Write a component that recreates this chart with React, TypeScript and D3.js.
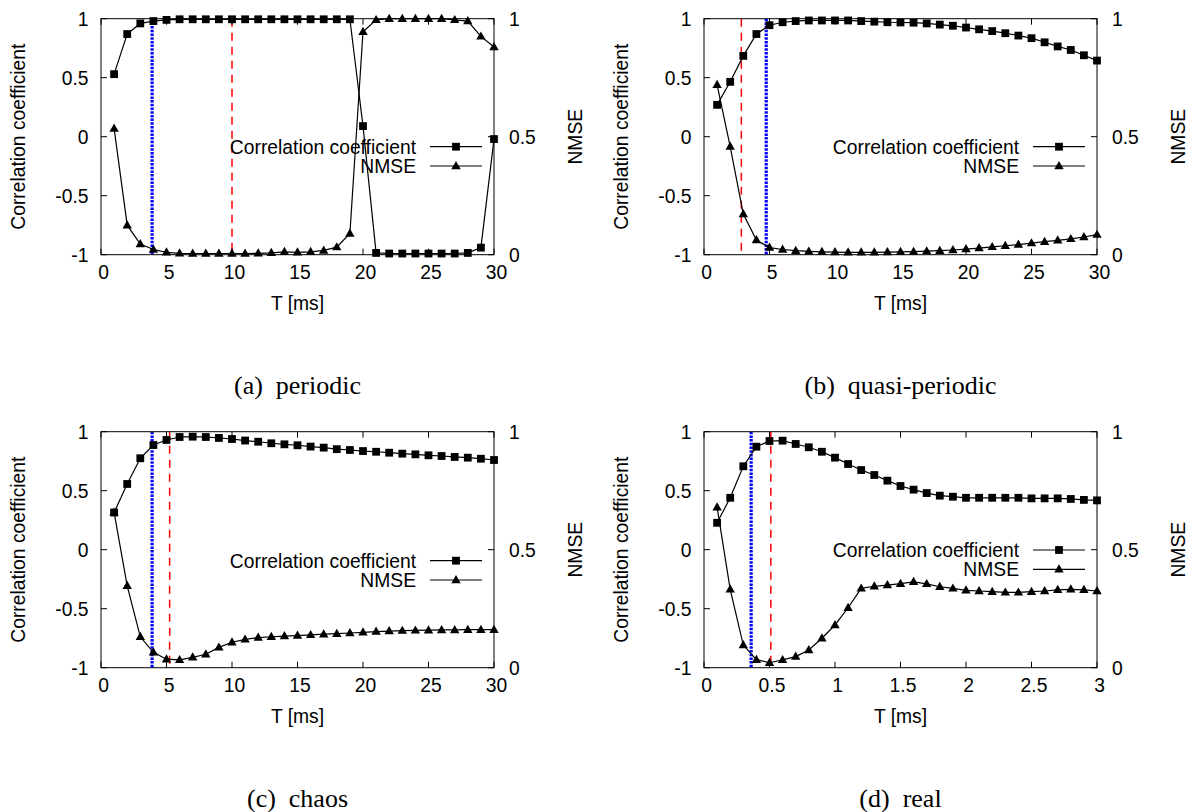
import React from "react";
import * as d3 from "d3";

// Sampling intervals T [ms]
const tMs = [1, 2, 3, 4, 5, 6, 7, 8, 9, 10, 11, 12, 13, 14, 15, 16, 17, 18, 19, 20, 21, 22, 23, 24, 25, 26, 27, 28, 29, 30];
const tReal = [0.1, 0.2, 0.3, 0.4, 0.5, 0.6, 0.7, 0.8, 0.9, 1.0, 1.1, 1.2, 1.3, 1.4, 1.5, 1.6, 1.7, 1.8, 1.9, 2.0, 2.1, 2.2, 2.3, 2.4, 2.5, 2.6, 2.7, 2.8, 2.9, 3.0];

// (a) periodic
const periodicCorr = [0.53, 0.87, 0.96, 0.98, 0.99, 0.995, 0.995, 0.995, 0.995, 0.995, 0.995, 0.995, 0.995, 0.995, 0.995, 0.995, 0.995, 0.995, 0.995, 0.09, -0.985, -0.99, -0.99, -0.99, -0.99, -0.99, -0.99, -0.985, -0.94, -0.02];
const periodicNmse = [0.535, 0.125, 0.045, 0.022, 0.01, 0.006, 0.005, 0.005, 0.005, 0.005, 0.005, 0.006, 0.008, 0.012, 0.01, 0.012, 0.018, 0.032, 0.09, 0.945, 0.995, 1.0, 1.0, 1.0, 1.0, 1.0, 0.995, 0.99, 0.925, 0.88];

// (b) quasi-periodic
const quasiCorr = [0.27, 0.465, 0.685, 0.87, 0.945, 0.97, 0.98, 0.985, 0.985, 0.985, 0.985, 0.98, 0.975, 0.97, 0.968, 0.966, 0.96, 0.95, 0.94, 0.925, 0.91, 0.895, 0.877, 0.857, 0.835, 0.8, 0.765, 0.735, 0.69, 0.645];
const quasiNmse = [0.72, 0.458, 0.172, 0.062, 0.03, 0.022, 0.017, 0.014, 0.012, 0.011, 0.01, 0.01, 0.01, 0.011, 0.012, 0.013, 0.015, 0.017, 0.02, 0.024, 0.028, 0.033, 0.038, 0.043, 0.049, 0.055, 0.061, 0.067, 0.075, 0.085];

// (c) chaos
const chaosCorr = [0.315, 0.557, 0.775, 0.887, 0.93, 0.955, 0.958, 0.955, 0.947, 0.938, 0.925, 0.915, 0.902, 0.893, 0.885, 0.874, 0.865, 0.852, 0.845, 0.836, 0.83, 0.822, 0.814, 0.808, 0.8, 0.794, 0.786, 0.78, 0.771, 0.76];
const chaosNmse = [0.658, 0.347, 0.131, 0.065, 0.036, 0.033, 0.044, 0.057, 0.086, 0.108, 0.12, 0.128, 0.131, 0.134, 0.136, 0.139, 0.142, 0.144, 0.147, 0.15, 0.153, 0.155, 0.157, 0.158, 0.159, 0.16, 0.16, 0.161, 0.161, 0.161];

// (d) real
const realCorr = [0.228, 0.44, 0.707, 0.873, 0.921, 0.924, 0.896, 0.868, 0.83, 0.78, 0.726, 0.675, 0.633, 0.585, 0.54, 0.509, 0.48, 0.458, 0.449, 0.44, 0.44, 0.44, 0.44, 0.44, 0.435, 0.435, 0.435, 0.43, 0.422, 0.418];
const realNmse = [0.68, 0.332, 0.096, 0.034, 0.021, 0.033, 0.047, 0.075, 0.125, 0.181, 0.254, 0.336, 0.345, 0.35, 0.356, 0.364, 0.355, 0.343, 0.336, 0.328, 0.325, 0.322, 0.319, 0.319, 0.322, 0.325, 0.33, 0.332, 0.33, 0.325];

// Marker lines: blue dotted and red dashed
const blueMarks = [3.9, 4.75, 3.9, 0.36];
const redMarks = [10, 2.85, 5.24, 0.51];

// Axis ticks
const xTicksMs = [0, 5, 10, 15, 20, 25, 30];
const xTicksReal = [0, 0.5, 1, 1.5, 2, 2.5, 3];
const corrTicks = [-1, -0.5, 0, 0.5, 1];
const nmseTicks = [0, 0.5, 1];

const captions = ["(a)  periodic", "(b)  quasi-periodic", "(c)  chaos", "(d)  real"];

const PLOT_W = 393;
const PLOT_H = 236;
const FS = 19.3;
const SANS = "'Liberation Sans', Arial, Helvetica, sans-serif";
const SERIF = "'Liberation Serif', 'Times New Roman', serif";

type PanelSpec = {
  left: number;
  top: number;
  t: number[];
  corr: number[];
  nmse: number[];
  xDomain: [number, number];
  xTicks: number[];
  blue: number;
  red: number;
  legendY: number;
  caption: string;
};

const panels: PanelSpec[] = [
  { left: 101, top: 18.7, t: tMs, corr: periodicCorr, nmse: periodicNmse, xDomain: [0, 30], xTicks: xTicksMs, blue: blueMarks[0], red: redMarks[0], legendY: 128, caption: captions[0] },
  { left: 704, top: 18.7, t: tMs, corr: quasiCorr, nmse: quasiNmse, xDomain: [0, 30], xTicks: xTicksMs, blue: blueMarks[1], red: redMarks[1], legendY: 128, caption: captions[1] },
  { left: 101, top: 431.7, t: tMs, corr: chaosCorr, nmse: chaosNmse, xDomain: [0, 30], xTicks: xTicksMs, blue: blueMarks[2], red: redMarks[2], legendY: 129, caption: captions[2] },
  { left: 704, top: 431.7, t: tReal, corr: realCorr, nmse: realNmse, xDomain: [0, 3], xTicks: xTicksReal, blue: blueMarks[3], red: redMarks[3], legendY: 118.3, caption: captions[3] },
];

const squarePath = "M-3.9,-3.9h7.8v7.8h-7.8z";
const trianglePath = "M0,-5L4.7,3.2L-4.7,3.2z";

function Panel({ p }: { p: PanelSpec }) {
  const right = p.left + PLOT_W;
  const bottom = p.top + PLOT_H;
  const x = d3.scaleLinear().domain(p.xDomain).range([p.left, right]);
  const yL = d3.scaleLinear().domain([-1, 1]).range([bottom, p.top]);
  const yR = d3.scaleLinear().domain([0, 1]).range([bottom, p.top]);

  const corrPts: [number, number][] = p.t.map((t, i) => [x(t), yL(p.corr[i])]);
  const nmsePts: [number, number][] = p.t.map((t, i) => [x(t), yR(p.nmse[i])]);
  const line = d3.line();

  const midY = (p.top + bottom) / 2;
  const midX = (p.left + right) / 2;
  const tick = 6;
  const legY1 = p.top + p.legendY;
  const legY2 = legY1 + 19.3;

  return (
    <g>
      {/* reference lines */}
      <line x1={x(p.red)} x2={x(p.red)} y1={p.top} y2={bottom} stroke="#ff0000" strokeWidth={1.5} strokeDasharray="8,6" />
      <line x1={x(p.blue)} x2={x(p.blue)} y1={p.top} y2={bottom} stroke="#0000ff" strokeWidth={3.2} strokeDasharray="2.5,1.2" />

      {/* frame */}
      <rect x={p.left} y={p.top} width={PLOT_W} height={PLOT_H} fill="none" stroke="#000" strokeWidth={1} />

      {/* x ticks (bottom and mirrored top) */}
      {p.xTicks.map((v) => (
        <g key={"xt" + v}>
          <line x1={x(v)} x2={x(v)} y1={bottom} y2={bottom - tick} stroke="#000" />
          <line x1={x(v)} x2={x(v)} y1={p.top} y2={p.top + tick} stroke="#000" />
          <text x={x(v) + 2.5} y={bottom + 24.5} textAnchor="middle" fontFamily={SANS} fontSize={FS}>{String(v)}</text>
        </g>
      ))}
      {/* left axis */}
      {corrTicks.map((v) => (
        <g key={"yl" + v}>
          <line x1={p.left} x2={p.left + tick} y1={yL(v)} y2={yL(v)} stroke="#000" />
          <text x={p.left - 12.5} y={yL(v) + 7.5} textAnchor="end" fontFamily={SANS} fontSize={FS}>{String(v)}</text>
        </g>
      ))}
      {/* right axis */}
      {nmseTicks.map((v) => (
        <g key={"yr" + v}>
          <line x1={right} x2={right - tick} y1={yR(v)} y2={yR(v)} stroke="#000" />
          <text x={right + 15} y={yR(v) + 7.5} textAnchor="start" fontFamily={SANS} fontSize={FS}>{String(v)}</text>
        </g>
      ))}

      {/* axis titles */}
      <text x={midX} y={bottom + 55.5} textAnchor="middle" fontFamily={SANS} fontSize={FS}>T [ms]</text>
      <text transform={`translate(${p.left - 76},${midY}) rotate(-90)`} textAnchor="middle" fontFamily={SANS} fontSize={FS}>Correlation coefficient</text>
      <text transform={`translate(${right + 88},${midY}) rotate(-90)`} textAnchor="middle" fontFamily={SANS} fontSize={FS}>NMSE</text>

      {/* series */}
      <path d={line(corrPts) ?? ""} fill="none" stroke="#000" strokeWidth={1.2} />
      <path d={line(nmsePts) ?? ""} fill="none" stroke="#000" strokeWidth={1.2} />
      {corrPts.map(([cx, cy], i) => (
        <path key={"s" + i} d={squarePath} transform={`translate(${cx},${cy})`} fill="#000" />
      ))}
      {nmsePts.map(([cx, cy], i) => (
        <path key={"t" + i} d={trianglePath} transform={`translate(${cx},${cy})`} fill="#000" />
      ))}

      {/* legend */}
      <text x={right - 78} y={legY1 + 7} textAnchor="end" fontFamily={SANS} fontSize={FS}>Correlation coefficient</text>
      <line x1={right - 64} x2={right - 12} y1={legY1} y2={legY1} stroke="#000" strokeWidth={1.2} />
      <path d={squarePath} transform={`translate(${right - 38},${legY1})`} fill="#000" />
      <text x={right - 78} y={legY2 + 7} textAnchor="end" fontFamily={SANS} fontSize={FS}>NMSE</text>
      <line x1={right - 64} x2={right - 12} y1={legY2} y2={legY2} stroke="#000" strokeWidth={1.2} />
      <path d={trianglePath} transform={`translate(${right - 38},${legY2})`} fill="#000" />

      {/* caption */}
      <text x={midX} y={bottom + 139} textAnchor="middle" fontFamily={SERIF} fontSize={26} style={{ whiteSpace: "pre" }}>{p.caption}</text>
    </g>
  );
}

export default function App() {
  return (
    <svg width={1191} height={812} style={{ position: "absolute", left: 0, top: 0, background: "#fff" }}>
      <rect x={0} y={0} width={1191} height={812} fill="#fff" />
      {panels.map((p, i) => (
        <Panel key={i} p={p} />
      ))}
    </svg>
  );
}
